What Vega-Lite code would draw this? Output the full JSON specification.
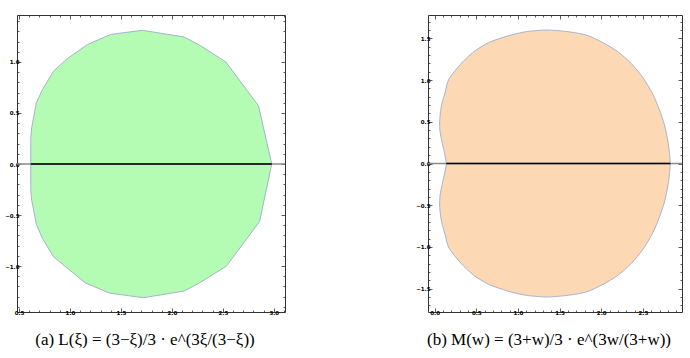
{
  "$schema": "https://vega.github.io/schema/vega-lite/v6.json",
  "padding": {"left": 4, "top": 14, "right": 5, "bottom": 0},
  "background": "white",
  "config": {
    "view": {"stroke": "#333333", "strokeWidth": 1},
    "axis": {"domain": false, "grid": false, "labelFont": "DejaVu Sans", "labelFontSize": 5.5, "labelFontWeight": "bold", "labelColor": "#000000", "tickColor": "#333333", "tickWidth": 0.8, "labelOverlap": false, "labelPadding": 2, "title": null},
    "title": {"font": "Liberation Serif", "fontSize": 17, "fontWeight": "normal", "color": "#000000", "orient": "bottom", "offset": 14}
  },
  "datasets": {
    "shapeA": [
      {"i": 0, "x": 0.615, "y": 0},
      {"i": 1, "x": 0.615, "y": 0.26},
      {"i": 2, "x": 0.625, "y": 0.36},
      {"i": 3, "x": 0.67, "y": 0.6},
      {"i": 4, "x": 0.73, "y": 0.73},
      {"i": 5, "x": 0.84, "y": 0.91},
      {"i": 6, "x": 0.97, "y": 1.03},
      {"i": 7, "x": 1.17, "y": 1.17},
      {"i": 8, "x": 1.4, "y": 1.27},
      {"i": 9, "x": 1.71, "y": 1.31},
      {"i": 10, "x": 2.12, "y": 1.245},
      {"i": 11, "x": 2.28, "y": 1.16},
      {"i": 12, "x": 2.53, "y": 1.0},
      {"i": 13, "x": 2.85, "y": 0.57},
      {"i": 14, "x": 2.98, "y": 0},
      {"i": 15, "x": 2.86, "y": -0.565},
      {"i": 16, "x": 2.535, "y": -1.0},
      {"i": 17, "x": 2.28, "y": -1.16},
      {"i": 18, "x": 2.12, "y": -1.245},
      {"i": 19, "x": 1.72, "y": -1.31},
      {"i": 20, "x": 1.39, "y": -1.265},
      {"i": 21, "x": 1.15, "y": -1.165},
      {"i": 22, "x": 0.84, "y": -0.91},
      {"i": 23, "x": 0.73, "y": -0.73},
      {"i": 24, "x": 0.67, "y": -0.59},
      {"i": 25, "x": 0.625, "y": -0.36},
      {"i": 26, "x": 0.615, "y": -0.25},
      {"i": 27, "x": 0.615, "y": 0}
    ],
    "shapeB": [
      {"i": 0, "x": 2.83, "y": 0},
      {"i": 1, "x": 2.82, "y": 0.12},
      {"i": 2, "x": 2.8, "y": 0.27},
      {"i": 3, "x": 2.76, "y": 0.46},
      {"i": 4, "x": 2.7, "y": 0.64},
      {"i": 5, "x": 2.62, "y": 0.83},
      {"i": 6, "x": 2.5, "y": 1.03},
      {"i": 7, "x": 2.36, "y": 1.2},
      {"i": 8, "x": 2.2, "y": 1.34},
      {"i": 9, "x": 2.02, "y": 1.45},
      {"i": 10, "x": 1.82, "y": 1.54},
      {"i": 11, "x": 1.6, "y": 1.58},
      {"i": 12, "x": 1.35, "y": 1.6},
      {"i": 13, "x": 1.1, "y": 1.58},
      {"i": 14, "x": 0.88, "y": 1.53},
      {"i": 15, "x": 0.65, "y": 1.45},
      {"i": 16, "x": 0.47, "y": 1.34},
      {"i": 17, "x": 0.32, "y": 1.2},
      {"i": 18, "x": 0.17, "y": 1.01},
      {"i": 19, "x": 0.125, "y": 0.85},
      {"i": 20, "x": 0.09, "y": 0.73},
      {"i": 21, "x": 0.07, "y": 0.62},
      {"i": 22, "x": 0.06, "y": 0.5},
      {"i": 23, "x": 0.065, "y": 0.38},
      {"i": 24, "x": 0.09, "y": 0.25},
      {"i": 25, "x": 0.125, "y": 0.09},
      {"i": 26, "x": 0.14, "y": 0},
      {"i": 27, "x": 0.125, "y": -0.09},
      {"i": 28, "x": 0.09, "y": -0.25},
      {"i": 29, "x": 0.065, "y": -0.38},
      {"i": 30, "x": 0.06, "y": -0.5},
      {"i": 31, "x": 0.07, "y": -0.62},
      {"i": 32, "x": 0.09, "y": -0.73},
      {"i": 33, "x": 0.125, "y": -0.85},
      {"i": 34, "x": 0.17, "y": -1.01},
      {"i": 35, "x": 0.32, "y": -1.2},
      {"i": 36, "x": 0.47, "y": -1.34},
      {"i": 37, "x": 0.65, "y": -1.45},
      {"i": 38, "x": 0.88, "y": -1.53},
      {"i": 39, "x": 1.1, "y": -1.58},
      {"i": 40, "x": 1.35, "y": -1.6},
      {"i": 41, "x": 1.6, "y": -1.58},
      {"i": 42, "x": 1.82, "y": -1.54},
      {"i": 43, "x": 2.02, "y": -1.45},
      {"i": 44, "x": 2.2, "y": -1.34},
      {"i": 45, "x": 2.36, "y": -1.2},
      {"i": 46, "x": 2.5, "y": -1.03},
      {"i": 47, "x": 2.62, "y": -0.83},
      {"i": 48, "x": 2.7, "y": -0.64},
      {"i": 49, "x": 2.76, "y": -0.46},
      {"i": 50, "x": 2.8, "y": -0.27},
      {"i": 51, "x": 2.82, "y": -0.12},
      {"i": 52, "x": 2.83, "y": 0}
    ],
    "segA": [{"x": 0.615, "x2": 2.98, "y": 0}],
    "segB": [{"x": 0.14, "x2": 2.83, "y": 0}],
    "zero": [{"y": 0}]
  },
  "spacing": 128,
  "hconcat": [
    {
      "width": 268,
      "height": 297,
      "title": {"text": "(a) L(ξ) = (3−ξ)/3 · e^(3ξ/(3−ξ))", "anchor": "middle", "dx": -6},
      "layer": [
        {
          "data": {"name": "shapeA"},
          "mark": {"type": "line", "fill": "#b4fbb4", "stroke": "#a6b4cc", "strokeWidth": 1, "interpolate": "linear"},
          "encoding": {
            "x": {"field": "x", "type": "quantitative", "scale": {"domain": [0.48, 3.11], "nice": false, "zero": false},
              "axis": {"orient": "bottom", "values": [0.5,0.6,0.7,0.8,0.9,1.0,1.1,1.2,1.3,1.4,1.5,1.6,1.7,1.8,1.9,2.0,2.1,2.2,2.3,2.4,2.5,2.6,2.7,2.8,2.9,3.0,3.1],
                "tickSize": {"condition": {"test": "abs(datum.value*2 - round(datum.value*2)) < 0.001", "value": -4}, "value": -2},
                "labelExpr": "abs(datum.value*2 - round(datum.value*2)) < 0.001 ? format(datum.value, '.1f') : ''"}},
            "y": {"field": "y", "type": "quantitative", "scale": {"domain": [-1.45, 1.46], "nice": false, "zero": false},
              "axis": {"orient": "left", "values": [-1.4,-1.3,-1.2,-1.1,-1.0,-0.9,-0.8,-0.7,-0.6,-0.5,-0.4,-0.3,-0.2,-0.1,0,0.1,0.2,0.3,0.4,0.5,0.6,0.7,0.8,0.9,1.0,1.1,1.2,1.3,1.4],
                "tickSize": {"condition": {"test": "abs(datum.value*2 - round(datum.value*2)) < 0.001", "value": -4}, "value": -2},
                "labelExpr": "abs(datum.value*2 - round(datum.value*2)) < 0.001 ? format(datum.value, '.1f') : ''"}},
            "order": {"field": "i", "type": "quantitative"}
          }
        },
        {
          "data": {"name": "zero"},
          "mark": {"type": "rule", "color": "#8a8a8a", "strokeWidth": 1.5},
          "encoding": {
            "y": {"field": "y", "type": "quantitative", "scale": {"domain": [-1.45, 1.46], "nice": false, "zero": false}, "axis": null}
          }
        },
        {
          "data": {"name": "segA"},
          "mark": {"type": "rule", "color": "#000000", "strokeWidth": 1.5},
          "encoding": {
            "x": {"field": "x", "type": "quantitative", "scale": {"domain": [0.48, 3.11], "nice": false, "zero": false},
              "axis": {"orient": "top", "labels": false, "values": [0.5,0.6,0.7,0.8,0.9,1.0,1.1,1.2,1.3,1.4,1.5,1.6,1.7,1.8,1.9,2.0,2.1,2.2,2.3,2.4,2.5,2.6,2.7,2.8,2.9,3.0,3.1],
                "tickSize": {"condition": {"test": "abs(datum.value*2 - round(datum.value*2)) < 0.001", "value": -4}, "value": -2}}},
            "x2": {"field": "x2"},
            "y": {"field": "y", "type": "quantitative", "scale": {"domain": [-1.45, 1.46], "nice": false, "zero": false},
              "axis": {"orient": "right", "labels": false, "values": [-1.4,-1.3,-1.2,-1.1,-1.0,-0.9,-0.8,-0.7,-0.6,-0.5,-0.4,-0.3,-0.2,-0.1,0,0.1,0.2,0.3,0.4,0.5,0.6,0.7,0.8,0.9,1.0,1.1,1.2,1.3,1.4],
                "tickSize": {"condition": {"test": "abs(datum.value*2 - round(datum.value*2)) < 0.001", "value": -4}, "value": -2}}}
          }
        }
      ],
      "resolve": {"axis": {"x": "independent", "y": "independent"}}
    },
    {
      "width": 254,
      "height": 297,
      "title": {"text": "(b) M(w) = (3+w)/3 · e^(3w/(3+w))", "anchor": "middle", "dx": -6},
      "layer": [
        {
          "data": {"name": "shapeB"},
          "mark": {"type": "line", "fill": "#fdd8b4", "stroke": "#a6b4cc", "strokeWidth": 1, "interpolate": "cardinal", "tension": 0.3},
          "encoding": {
            "x": {"field": "x", "type": "quantitative", "scale": {"domain": [-0.08, 2.97], "nice": false, "zero": false},
              "axis": {"orient": "bottom", "values": [0,0.1,0.2,0.3,0.4,0.5,0.6,0.7,0.8,0.9,1.0,1.1,1.2,1.3,1.4,1.5,1.6,1.7,1.8,1.9,2.0,2.1,2.2,2.3,2.4,2.5,2.6,2.7,2.8,2.9],
                "tickSize": {"condition": {"test": "abs(datum.value*2 - round(datum.value*2)) < 0.001", "value": -4}, "value": -2},
                "labelExpr": "abs(datum.value*2 - round(datum.value*2)) < 0.001 ? format(datum.value, '.1f') : ''"}},
            "y": {"field": "y", "type": "quantitative", "scale": {"domain": [-1.78, 1.78], "nice": false, "zero": false},
              "axis": {"orient": "left", "values": [-1.7,-1.6,-1.5,-1.4,-1.3,-1.2,-1.1,-1.0,-0.9,-0.8,-0.7,-0.6,-0.5,-0.4,-0.3,-0.2,-0.1,0,0.1,0.2,0.3,0.4,0.5,0.6,0.7,0.8,0.9,1.0,1.1,1.2,1.3,1.4,1.5,1.6,1.7],
                "tickSize": {"condition": {"test": "abs(datum.value*2 - round(datum.value*2)) < 0.001", "value": -4}, "value": -2},
                "labelExpr": "abs(datum.value*2 - round(datum.value*2)) < 0.001 ? format(datum.value, '.1f') : ''"}},
            "order": {"field": "i", "type": "quantitative"}
          }
        },
        {
          "data": {"name": "zero"},
          "mark": {"type": "rule", "color": "#8a8a8a", "strokeWidth": 1.5},
          "encoding": {
            "y": {"field": "y", "type": "quantitative", "scale": {"domain": [-1.78, 1.78], "nice": false, "zero": false}, "axis": null}
          }
        },
        {
          "data": {"name": "segB"},
          "mark": {"type": "rule", "color": "#000000", "strokeWidth": 1.5},
          "encoding": {
            "x": {"field": "x", "type": "quantitative", "scale": {"domain": [-0.08, 2.97], "nice": false, "zero": false},
              "axis": {"orient": "top", "labels": false, "values": [0,0.1,0.2,0.3,0.4,0.5,0.6,0.7,0.8,0.9,1.0,1.1,1.2,1.3,1.4,1.5,1.6,1.7,1.8,1.9,2.0,2.1,2.2,2.3,2.4,2.5,2.6,2.7,2.8,2.9],
                "tickSize": {"condition": {"test": "abs(datum.value*2 - round(datum.value*2)) < 0.001", "value": -4}, "value": -2}}},
            "x2": {"field": "x2"},
            "y": {"field": "y", "type": "quantitative", "scale": {"domain": [-1.78, 1.78], "nice": false, "zero": false},
              "axis": {"orient": "right", "labels": false, "values": [-1.7,-1.6,-1.5,-1.4,-1.3,-1.2,-1.1,-1.0,-0.9,-0.8,-0.7,-0.6,-0.5,-0.4,-0.3,-0.2,-0.1,0,0.1,0.2,0.3,0.4,0.5,0.6,0.7,0.8,0.9,1.0,1.1,1.2,1.3,1.4,1.5,1.6,1.7],
                "tickSize": {"condition": {"test": "abs(datum.value*2 - round(datum.value*2)) < 0.001", "value": -4}, "value": -2}}}
          }
        }
      ],
      "resolve": {"axis": {"x": "independent", "y": "independent"}}
    }
  ]
}
